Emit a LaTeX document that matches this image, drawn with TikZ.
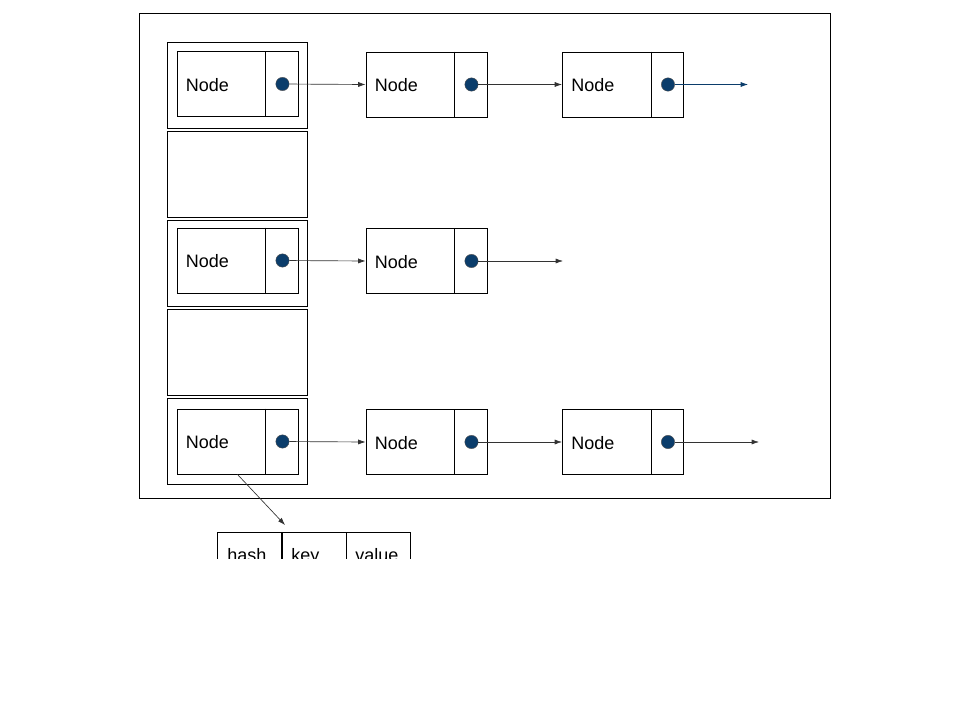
\documentclass[tikz,border=0pt]{standalone}
\usepackage{fontspec}
\setmainfont{Liberation Sans}
\usetikzlibrary{arrows.meta}
\definecolor{dotblue}{HTML}{0B3D6B}
\tikzset{
  entry/.style={draw, line width=0.7pt, minimum width=90.75pt, minimum height=48.75pt, inner sep=0pt},
  ptr/.style={circle, fill=dotblue, draw=black!70, line width=0.3pt, minimum size=10pt, inner sep=0pt},
  link/.style={-{Latex[length=5.5pt,width=3.8pt]}, draw=black!80, line width=0.5pt},
  txt/.style={inner sep=0pt, font=\fontsize{13.5}{16}\selectfont},
}
% one list entry: name, x, y (centre, in px)
\newcommand{\entrynode}[3]{%
  \node[entry] (#1) at (#2,#3) {};
  \draw[line width=0.7pt] ([xshift=-24.75pt]#1.north east) -- ([xshift=-24.75pt]#1.south east);
  \node[txt, anchor=west] at ([xshift=6.75pt, yshift=-0.75pt]#1.west) {Node};
  \node[ptr] (#1p) at ([xshift=-12pt]#1.east) {};
}
\begin{document}
\begin{tikzpicture}[x=0.75pt, y=-0.75pt]
  \useasboundingbox (0,0) rectangle (960,720);

  % --- frame ---
  \draw[line width=0.7pt] (139,13) rectangle (830,498);

  % --- bucket column ---
  \foreach \i in {0,...,4}
    \draw[line width=0.7pt] (167,42+\i*89) rectangle (307,128.5+\i*89);

  % --- entries ---
  \entrynode{b1}{237.5}{84}
  \entrynode{n12}{426.5}{84.5}
  \entrynode{n13}{623}{84.5}

  \entrynode{b3}{237.5}{260.5}
  \entrynode{n32}{426.5}{261}

  \entrynode{b5}{237.5}{441.5}
  \entrynode{n52}{426.5}{442}
  \entrynode{n53}{623}{442}

  % --- free ends ---
  \coordinate (e1) at (748,84.5);
  \coordinate (e3) at (563,261);
  \coordinate (e5) at (759,442);
  \coordinate (tip) at (285,525);

  % --- links ---
  \draw[link] (b1p) -- (n12.west);
  \draw[link] (n12p) -- (n13.west);
  \draw[link, draw=dotblue] (n13p) -- (e1);
  \draw[link] (b3p) -- (n32.west);
  \draw[link] (n32p) -- (e3);
  \draw[link] (b5p) -- (n52.west);
  \draw[link] (n52p) -- (n53.west);
  \draw[link] (n53p) -- (e5);
  \draw[link] (b5.south) -- (tip);

  % --- hash / key / value (cut off) ---
  \begin{scope}
    \clip (0,0) rectangle (960,558);
    \draw[line width=0.7pt] (217,532) rectangle (410,600);
    \draw[line width=1.4pt] (282,532) -- (282,600);
    \draw[line width=0.7pt] (346,532) -- (346,600);
    \node[txt, anchor=base west] at (227,561) {hash};
    \node[txt, anchor=base west] at (291,561) {key};
    \node[txt, anchor=base west] at (355,561) {value};
  \end{scope}
\end{tikzpicture}
\end{document}
